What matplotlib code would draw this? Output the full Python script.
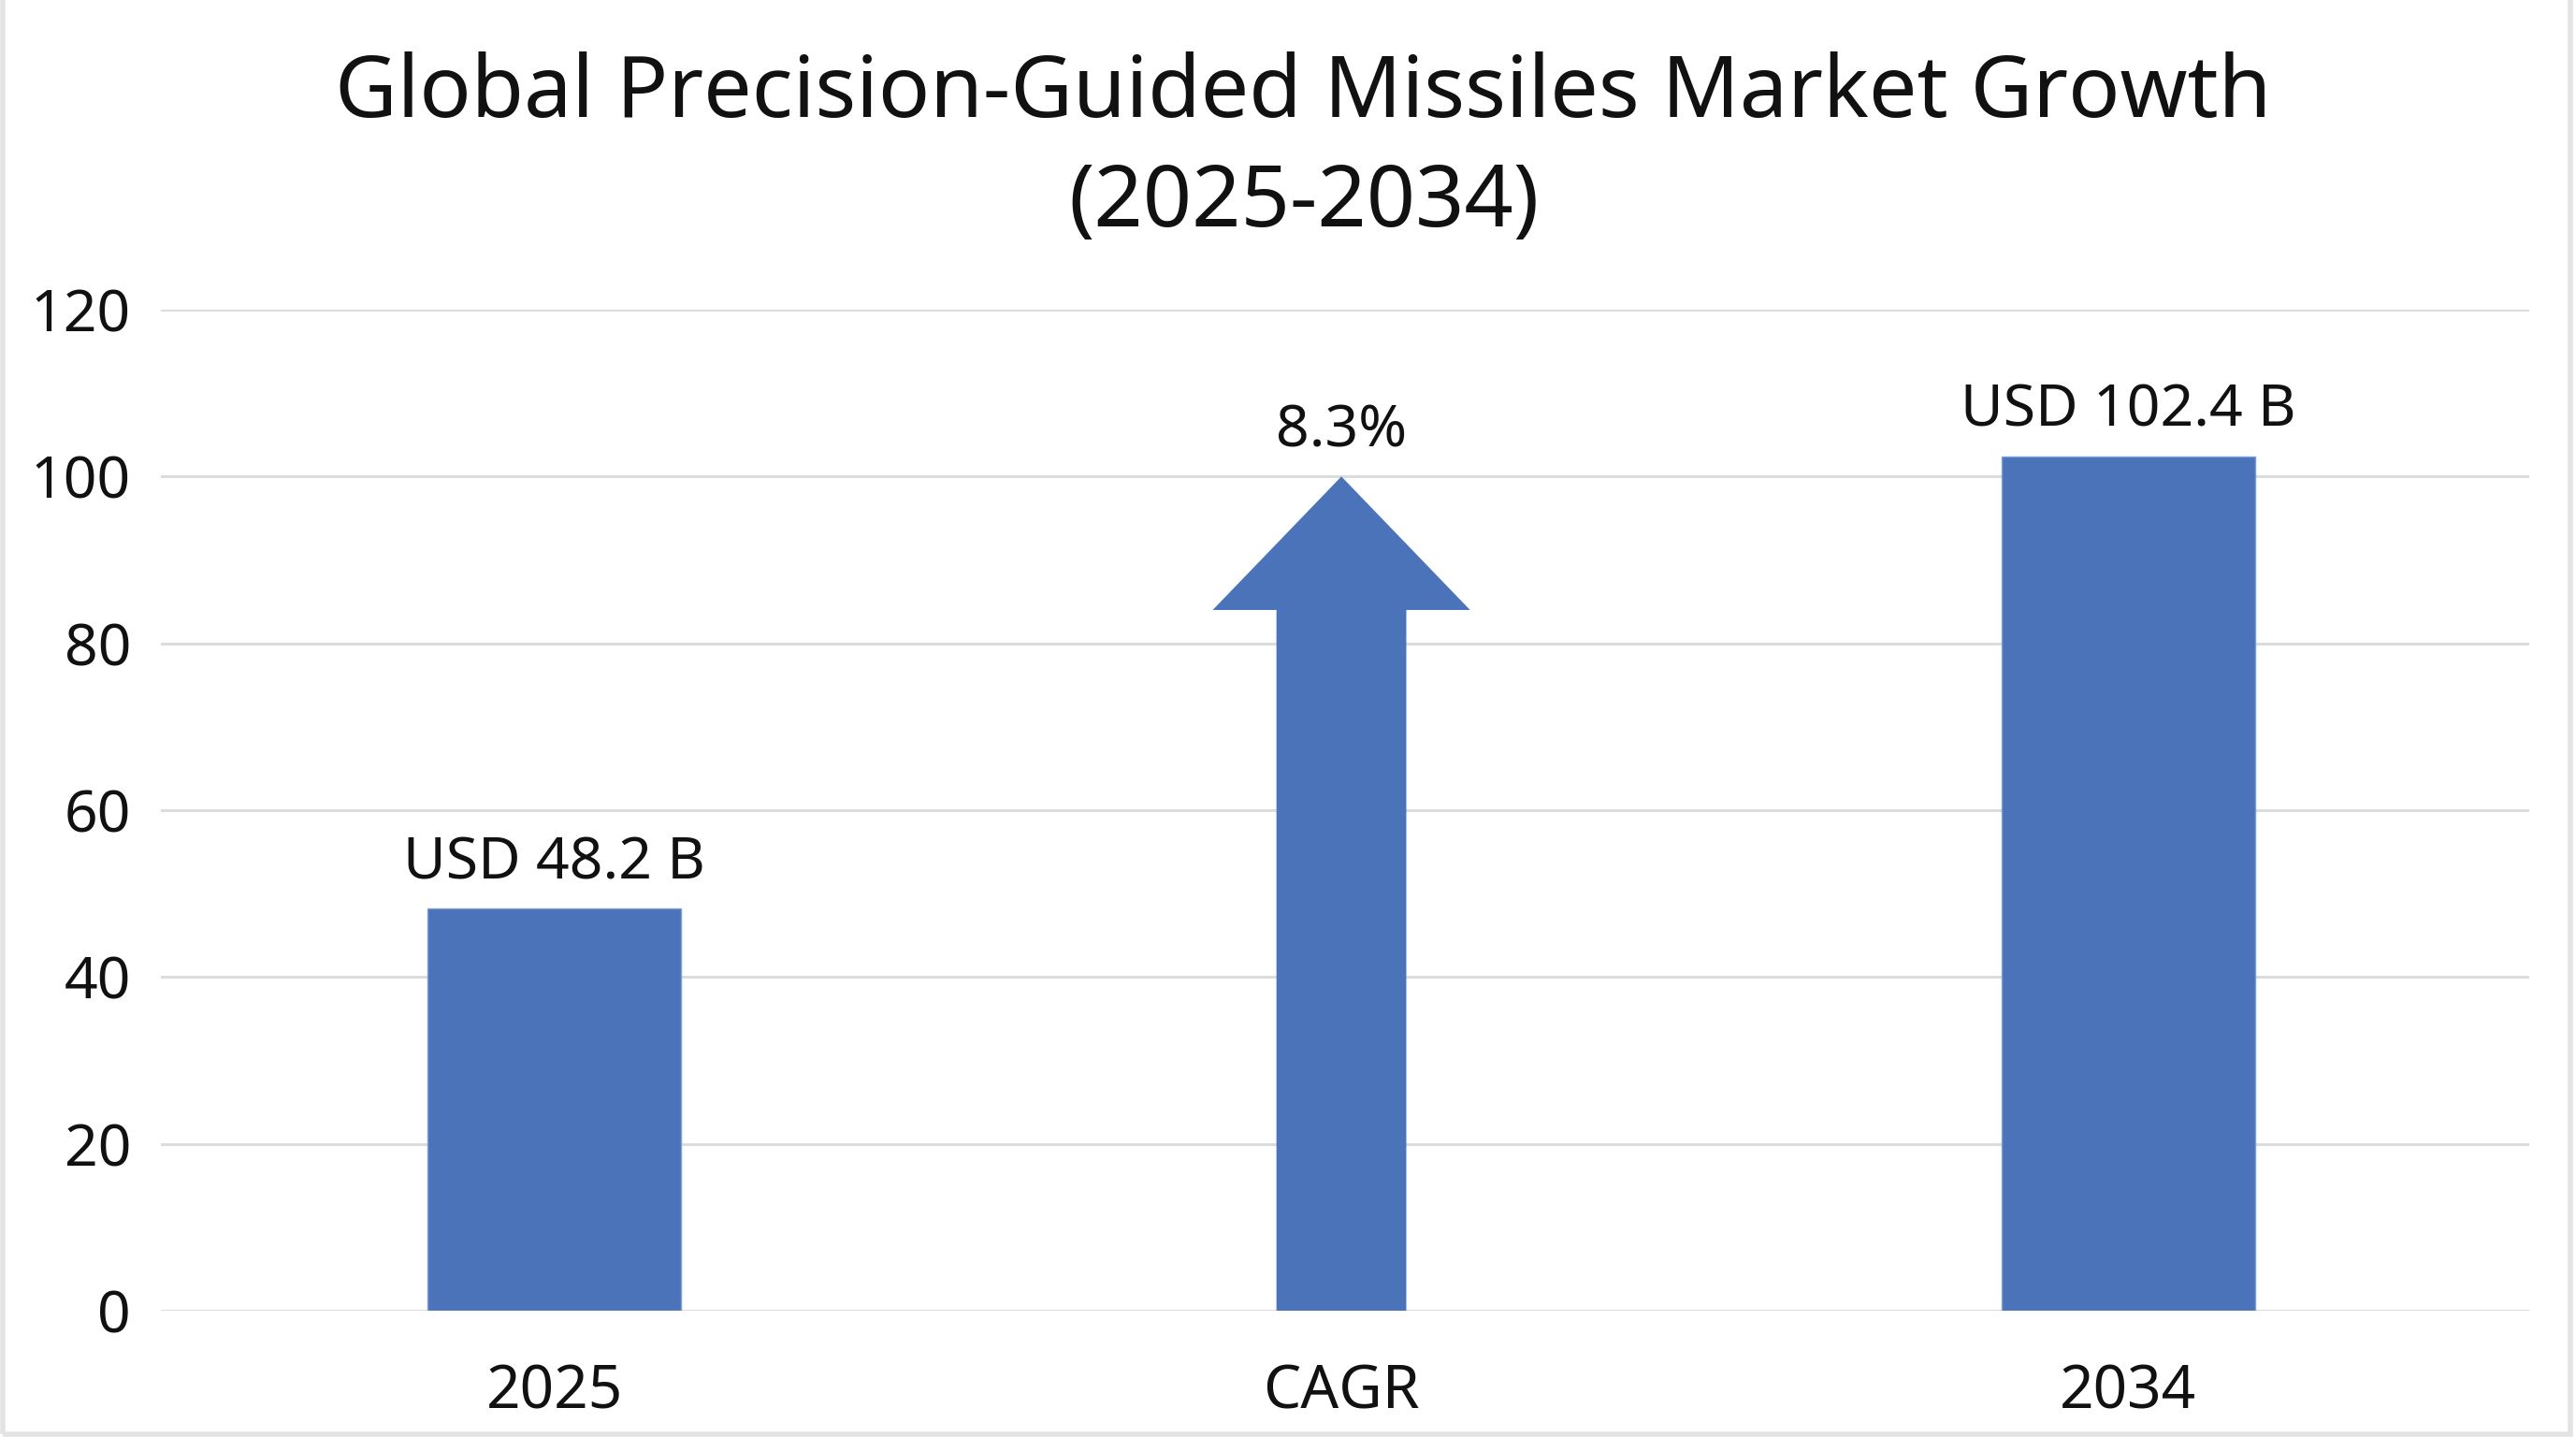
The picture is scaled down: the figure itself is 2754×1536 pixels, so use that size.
import matplotlib.pyplot as plt
from matplotlib.patches import Rectangle

categories = ["2025", "CAGR", "2034"]
market_values = [48.2, None, 102.4]
bar_labels = ["USD 48.2 B", "8.3%", "USD 102.4 B"]
cagr_arrow_top = 100
y_ticks = [0, 20, 40, 60, 80, 100, 120]

title = "Global Precision-Guided Missiles Market Growth\n(2025-2034)"
blue = "#4a73b9"
grid_grey = "#dcdcdc"


def draw_chart():
    plt.rcParams['font.family'] = ['Noto Sans', 'DejaVu Sans']
    fig = plt.figure(figsize=(27.54, 15.36), dpi=100)
    ax = fig.add_axes([0.0625, 0.0879, 0.9195, 0.6966])

    x = list(range(len(categories)))
    for xi, val, lab in zip(x, market_values, bar_labels):
        if val is not None:
            ax.bar(xi, val, width=0.322, color=blue, edgecolor="#7f9fd6",
                   linewidth=1.0, zorder=3)
            top = val
        else:
            ax.arrow(xi, 0, 0, cagr_arrow_top, width=0.165, head_width=0.327,
                     head_length=16, length_includes_head=True,
                     color=blue, linewidth=0, zorder=3)
            top = cagr_arrow_top
        ax.annotate(lab, (xi, top), xytext=(0, 23), textcoords="offset points",
                    ha="center", va="baseline", fontsize=45, color="#111111")

    ax.set_xlim(-0.5, 2.51)
    ax.set_ylim(0, 120)
    ax.set_yticks(y_ticks)
    ax.set_xticks(x)
    ax.set_xticklabels(categories)
    ax.tick_params(axis="y", length=0, pad=23, labelsize=45, labelcolor="#111111")
    ax.tick_params(axis="x", length=0, pad=40, labelsize=46, labelcolor="#111111")
    ax.grid(axis="y", color=grid_grey, linewidth=2.2, zorder=0)
    for s in ax.spines.values():
        s.set_visible(False)

    fig.text(0.506, 0.896, title, ha="center", va="center", fontsize=66,
             linespacing=1.36, color="#111111")

    fig.patches.append(Rectangle((0.001, 0.002), 0.997, 1.2, transform=fig.transFigure,
                                 fill=False, edgecolor="#e3e3e3", linewidth=4))
    fig.savefig("out.png", dpi=100)


if __name__ == '__main__':
    draw_chart()
